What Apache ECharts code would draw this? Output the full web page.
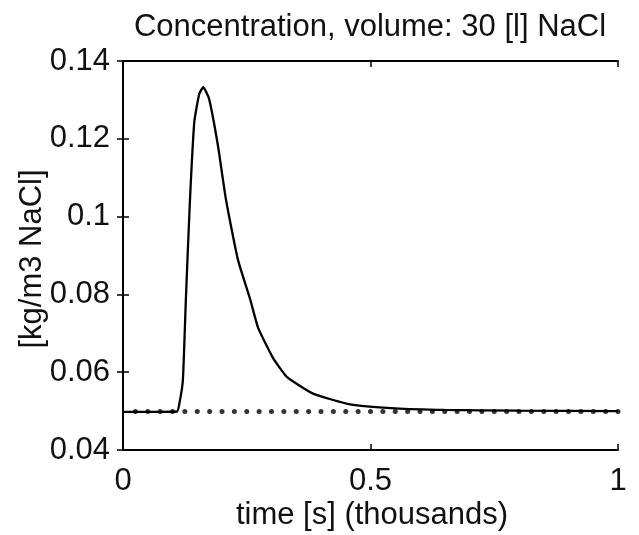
<!DOCTYPE html>
<html>
<head>
<meta charset="utf-8">
<script src="https://cdn.jsdelivr.net/npm/echarts@6/dist/echarts.min.js"></script>
<style>
html,body{margin:0;padding:0;background:#fff;}
#c{width:639px;height:535px;}
</style>
</head>
<body>
<div id="c"></div>
<script>
// Data (time in thousands of seconds, concentration in kg/m3 NaCl)
var curveTime = [0, 0.05, 0.109, 0.114, 0.121, 0.127, 0.135, 0.144, 0.154, 0.162, 0.174, 0.192, 0.208, 0.232, 0.257, 0.273, 0.303, 0.331, 0.384, 0.459, 0.55, 0.65, 0.8, 1.0];
var curveConc = [0.0498, 0.0498, 0.0499, 0.052, 0.058, 0.0787, 0.1035, 0.1243, 0.1315, 0.1333, 0.1302, 0.1181, 0.1044, 0.089, 0.0787, 0.0714, 0.0637, 0.0588, 0.0545, 0.0517, 0.0507, 0.0503, 0.0501, 0.0500];
var dotTime = [0.025, 0.05, 0.075, 0.1, 0.125, 0.15, 0.175, 0.2, 0.225, 0.25, 0.275, 0.3, 0.325, 0.35, 0.375, 0.4, 0.425, 0.45, 0.475, 0.5, 0.525, 0.55, 0.575, 0.6, 0.625, 0.65, 0.675, 0.7, 0.725, 0.75, 0.775, 0.8, 0.825, 0.85, 0.875, 0.9, 0.925, 0.95, 0.975, 1.0];
var dotConc = [0.0499, 0.0499, 0.0499, 0.0499, 0.0499, 0.0499, 0.0499, 0.0499, 0.0499, 0.0499, 0.0499, 0.0499, 0.0499, 0.0499, 0.0499, 0.0499, 0.0499, 0.0499, 0.0499, 0.0499, 0.0499, 0.0499, 0.0499, 0.0499, 0.0499, 0.0499, 0.0499, 0.0499, 0.0499, 0.0499, 0.0499, 0.0499, 0.0499, 0.0499, 0.0499, 0.0499, 0.0499, 0.0499, 0.0499, 0.0499];
var xTickLabels = {0: '0', 0.5: '0.5', 1: '1'};
var yTickLabels = {0.04: '0.04', 0.06: '0.06', 0.08: '0.08', 0.1: '0.1', 0.12: '0.12', 0.14: '0.14'};
var titleText = 'Concentration, volume: 30 [l] NaCl';
var xLabelText = 'time [s] (thousands)';
var yLabelText = '[kg/m3 NaCl]';

var FONT = '"Liberation Sans", Arial, Helvetica, sans-serif';
var FS = 31;

function zip(a, b) { return a.map(function (v, i) { return [v, b[i]]; }); }
function fmt(map) { return function (v) { var k = Math.round(v * 100) / 100; return map[k] !== undefined ? map[k] : ''; }; }

var chart = echarts.init(document.getElementById('c'), null, {renderer: 'canvas'});
var axisLine = {show: true, lineStyle: {color: '#000', width: 1.8}};
var tick = {show: true, inside: true, length: 6, lineStyle: {color: '#000', width: 1.5}};
chart.setOption({
  backgroundColor: '#fff',
  animation: false,
  grid: {left: 123, right: 21, top: 61, bottom: 85},
  graphic: [
    {type: 'text', x: 370, y: 27, style: {text: titleText, font: FS + 'px ' + FONT, fill: '#111', textAlign: 'center', textVerticalAlign: 'middle'}},
    {type: 'text', x: 372, y: 515, style: {text: xLabelText, font: FS + 'px ' + FONT, fill: '#111', textAlign: 'center', textVerticalAlign: 'middle'}},
    {type: 'text', x: 32, y: 259, rotation: Math.PI / 2, style: {text: yLabelText, font: FS + 'px ' + FONT, fill: '#111', textAlign: 'center', textVerticalAlign: 'middle'}}
  ],
  xAxis: [
    {type: 'value', min: 0, max: 1, interval: 0.5, position: 'bottom', axisLine: axisLine, axisTick: tick, splitLine: {show: false},
     axisLabel: {show: true, margin: 16, color: '#111', fontSize: FS, fontFamily: FONT, formatter: fmt(xTickLabels)}},
    {type: 'value', min: 0, max: 1, interval: 0.5, position: 'top', axisLine: axisLine, axisTick: tick, splitLine: {show: false}, axisLabel: {show: false}}
  ],
  yAxis: [
    {type: 'value', min: 0.04, max: 0.14, interval: 0.02, position: 'left', axisLine: axisLine, axisTick: tick, splitLine: {show: false},
     axisLabel: {show: true, margin: 13, color: '#111', fontSize: FS, fontFamily: FONT, formatter: fmt(yTickLabels)}},
    {type: 'value', min: 0.04, max: 0.14, interval: 0.02, position: 'right', axisLine: axisLine, axisTick: tick, splitLine: {show: false}, axisLabel: {show: false}}
  ],
  series: [
    {type: 'line', data: zip(curveTime, curveConc), showSymbol: false, smooth: 0.15, lineStyle: {color: '#000', width: 2.3}, z: 3},
    {type: 'scatter', data: zip(dotTime, dotConc), symbol: 'circle', symbolSize: 5, itemStyle: {color: '#000'}, z: 4}
  ]
});
</script>
</body>
</html>
